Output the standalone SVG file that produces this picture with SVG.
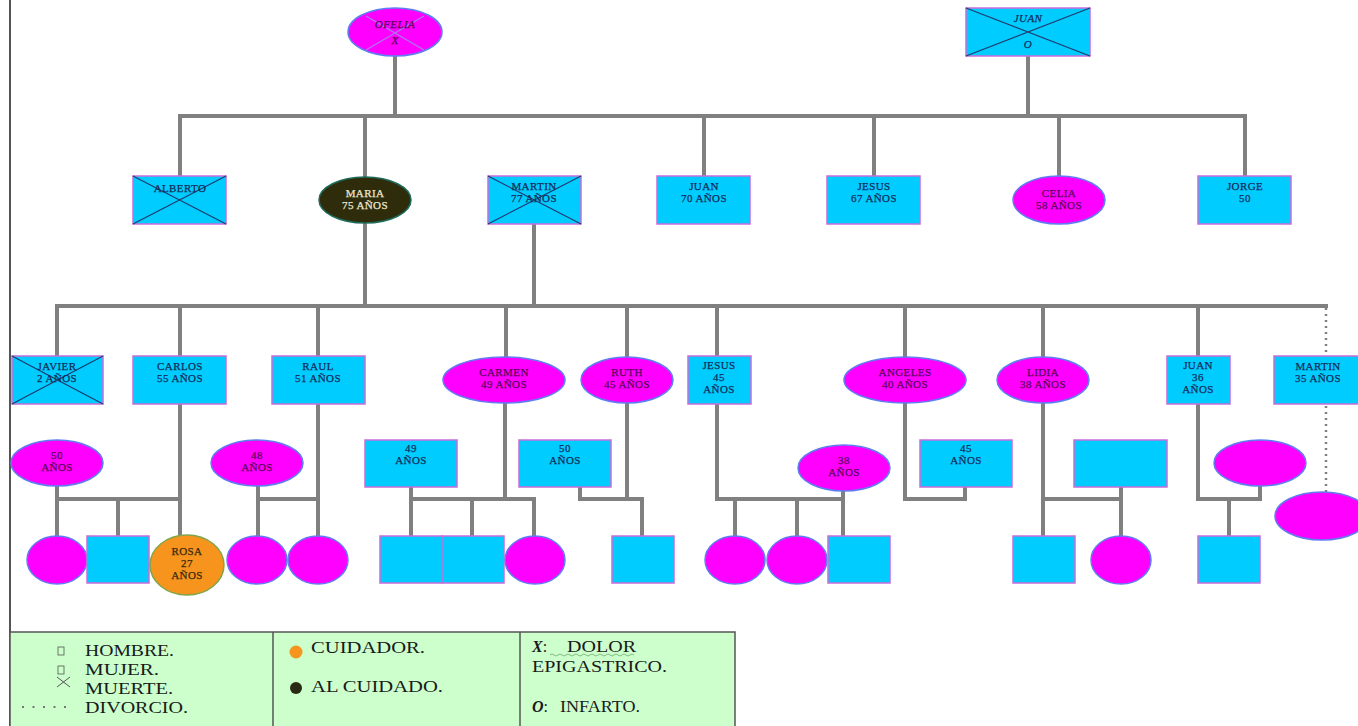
<svg xmlns="http://www.w3.org/2000/svg" width="1358" height="726" viewBox="0 0 1358 726">
<style>
.bg{fill:#ffffff}
.m{fill:#00CCFF;stroke:#C86DD7;stroke-width:1.5}
.f{fill:#FF00FF;stroke:#5F7DF0;stroke-width:1.5}
.x{stroke:#1F3A6E;stroke-width:1.2;fill:none}
.c{stroke:#808080;stroke-width:4;fill:none;stroke-linecap:square}
.d{stroke:#808080;stroke-width:2.5;fill:none;stroke-dasharray:2 4}
text{font-family:"Liberation Serif","Times New Roman",serif;text-anchor:middle}
.tm{font-size:11px;fill:#142C5A;letter-spacing:0.4px;stroke:#142C5A;stroke-width:0.25}
.tf{font-size:11px;fill:#5A005A;letter-spacing:0.4px;stroke:#5A005A;stroke-width:0.25}
.lg{font-size:16px;fill:#1a1a1a;text-anchor:start}
</style>
<rect class="bg" width="1358" height="726"/>
<line x1="10" y1="0" x2="10" y2="726" stroke="#555" stroke-width="2"/>

<g id="connectors">
  <path class="c" d="M395,57 V116 M1028,56 V116 M180,116 H1245 M180,116 V176 M365,116 V177 M704,116 V176 M874,116 V176 M1059,116 V176 M1245,116 V176"/>
  <path class="c" d="M365,223 V306 M534,224 V306 M57,306 H1326 M57,306 V356 M180,306 V356 M318,306 V356 M506,306 V357 M627,306 V357 M717,306 V356 M905,306 V357 M1043,306 V357 M1198,306 V356"/>
  <path class="d" d="M1326,308 V356 M1326,406 V493"/>
  <path class="c" d="M57,487 V536 M57,499 H180 M118,499 V536 M180,404 V536"/>
  <path class="c" d="M258,487 V536 M258,499 H318 M318,404 V536"/>
  <path class="c" d="M411,487 V536 M411,499 H534 V536 M472,499 V536 M505,403 V499"/>
  <path class="c" d="M580,487 V499 H642 V536 M627,403 V499"/>
  <path class="c" d="M717,404 V499 H843 M843,491 V536 M735,499 V536 M797,499 V536"/>
  <path class="c" d="M905,403 V499 H965 V487"/>
  <path class="c" d="M1043,403 V536 M1043,499 H1121 M1121,487 V536"/>
  <path class="c" d="M1198,404 V499 H1260 V487 M1229,499 V536"/>
</g>

<g id="ofelia">
  <ellipse class="f" cx="395" cy="32" rx="47" ry="24"/>
  <path d="M366,16 L424,50 M424,16 L366,50" stroke="#A77BF0" stroke-width="1.2" fill="none"/>
  <text class="tf" x="395" y="28" font-style="italic" font-size="10">OFELIA</text>
  <text class="tf" x="395" y="44" font-style="italic">X</text>
</g>
<g id="juan_top">
  <rect class="m" x="966" y="8" width="124" height="48"/>
  <path class="x" d="M966,8 L1090,56 M1090,8 L966,56"/>
  <text class="tm" x="1028" y="22" font-style="italic">JUAN</text>
  <text class="tm" x="1028" y="48" font-style="italic">O</text>
</g>

<g id="alberto">
  <rect class="m" x="133" y="176" width="93" height="48"/>
  <path class="x" d="M133,176 L226,224 M226,176 L133,224"/>
  <text class="tm" x="180" y="192">ALBERTO</text>
</g>
<g id="maria">
  <ellipse cx="365" cy="200" rx="46" ry="23" fill="#2F2C0C" stroke="#1E6B5A" stroke-width="1.5"/>
  <text class="tm" x="365" y="197" style="fill:#EDE6CF;stroke:#EDE6CF">MARIA</text>
  <text class="tm" x="365" y="209" style="fill:#EDE6CF;stroke:#EDE6CF">75 AÑOS</text>
</g>
<g id="martin_77">
  <rect class="m" x="488" y="176" width="93" height="48"/>
  <path class="x" d="M488,176 L581,224 M581,176 L488,224"/>
  <text class="tm" x="534" y="190">MARTIN</text>
  <text class="tm" x="534" y="202">77 AÑOS</text>
</g>
<g id="juan_70">
  <rect class="m" x="657" y="176" width="93" height="48"/>
  <text class="tm" x="704" y="190">JUAN</text>
  <text class="tm" x="704" y="202">70 AÑOS</text>
</g>
<g id="jesus_67">
  <rect class="m" x="827" y="176" width="93" height="48"/>
  <text class="tm" x="874" y="190">JESUS</text>
  <text class="tm" x="874" y="202">67 AÑOS</text>
</g>
<g id="celia">
  <ellipse class="f" cx="1059" cy="200" rx="46" ry="24"/>
  <text class="tf" x="1059" y="197">CELIA</text>
  <text class="tf" x="1059" y="209">58 AÑOS</text>
</g>
<g id="jorge">
  <rect class="m" x="1198" y="176" width="93" height="48"/>
  <text class="tm" x="1245" y="190">JORGE</text>
  <text class="tm" x="1245" y="202">50</text>
</g>

<g id="javier">
  <rect class="m" x="12" y="356" width="91" height="48"/>
  <path class="x" d="M12,356 L103,404 M103,356 L12,404"/>
  <text class="tm" x="57" y="370">JAVIER</text>
  <text class="tm" x="57" y="382">2 AÑOS</text>
</g>
<g id="carlos">
  <rect class="m" x="133" y="356" width="93" height="48"/>
  <text class="tm" x="180" y="370">CARLOS</text>
  <text class="tm" x="180" y="382">55 AÑOS</text>
</g>
<g id="raul">
  <rect class="m" x="272" y="356" width="93" height="48"/>
  <text class="tm" x="318" y="370">RAUL</text>
  <text class="tm" x="318" y="382">51 AÑOS</text>
</g>
<g id="carmen">
  <ellipse class="f" cx="504" cy="380" rx="61" ry="23"/>
  <text class="tf" x="504" y="376">CARMEN</text>
  <text class="tf" x="504" y="388">49 AÑOS</text>
</g>
<g id="ruth">
  <ellipse class="f" cx="627" cy="380" rx="46" ry="23"/>
  <text class="tf" x="627" y="376">RUTH</text>
  <text class="tf" x="627" y="388">45 AÑOS</text>
</g>
<g id="jesus_45">
  <rect class="m" x="688" y="356" width="63" height="48"/>
  <text class="tm" x="719" y="369">JESUS</text>
  <text class="tm" x="719" y="381">45</text>
  <text class="tm" x="719" y="393">AÑOS</text>
</g>
<g id="angeles">
  <ellipse class="f" cx="905" cy="380" rx="61" ry="23"/>
  <text class="tf" x="905" y="376">ANGELES</text>
  <text class="tf" x="905" y="388">40 AÑOS</text>
</g>
<g id="lidia">
  <ellipse class="f" cx="1043" cy="380" rx="46" ry="23"/>
  <text class="tf" x="1043" y="376">LIDIA</text>
  <text class="tf" x="1043" y="388">38 AÑOS</text>
</g>
<g id="juan_36">
  <rect class="m" x="1167" y="356" width="63" height="48"/>
  <text class="tm" x="1198" y="369">JUAN</text>
  <text class="tm" x="1198" y="381">36</text>
  <text class="tm" x="1198" y="393">AÑOS</text>
</g>
<g id="martin_35">
  <rect class="m" x="1274" y="356" width="90" height="48"/>
  <text class="tm" x="1318" y="370">MARTIN</text>
  <text class="tm" x="1318" y="382">35 AÑOS</text>
</g>

<g id="spouse_carlos">
  <ellipse class="f" cx="57" cy="463" rx="46" ry="23"/>
  <text class="tf" x="57" y="459">50</text>
  <text class="tf" x="57" y="471">AÑOS</text>
</g>
<g id="spouse_raul">
  <ellipse class="f" cx="257" cy="463" rx="46" ry="23"/>
  <text class="tf" x="257" y="459">48</text>
  <text class="tf" x="257" y="471">AÑOS</text>
</g>
<g id="spouse_carmen">
  <rect class="m" x="365" y="440" width="92" height="47"/>
  <text class="tm" x="411" y="452">49</text>
  <text class="tm" x="411" y="464">AÑOS</text>
</g>
<g id="spouse_ruth">
  <rect class="m" x="519" y="440" width="92" height="47"/>
  <text class="tm" x="565" y="452">50</text>
  <text class="tm" x="565" y="464">AÑOS</text>
</g>
<g id="spouse_jesus">
  <ellipse class="f" cx="844" cy="468" rx="46" ry="23"/>
  <text class="tf" x="844" y="464">38</text>
  <text class="tf" x="844" y="476">AÑOS</text>
</g>
<g id="spouse_angeles">
  <rect class="m" x="920" y="440" width="92" height="47"/>
  <text class="tm" x="966" y="452">45</text>
  <text class="tm" x="966" y="464">AÑOS</text>
</g>
<g id="spouse_lidia">
  <rect class="m" x="1074" y="440" width="93" height="47"/>
</g>
<g id="spouse_juan36">
  <ellipse class="f" cx="1260" cy="463" rx="46" ry="23"/>
</g>
<g id="spouse_martin35">
  <ellipse class="f" cx="1322" cy="516" rx="47" ry="24"/>
</g>

<g id="child_c1"><ellipse class="f" cx="57" cy="560" rx="30" ry="24"/></g>
<g id="child_c2"><rect class="m" x="87" y="536" width="62" height="47"/></g>
<g id="rosa">
  <ellipse cx="187" cy="565" rx="37" ry="30" fill="#F7941D" stroke="#7FA64A" stroke-width="1.5"/>
  <text class="tm" x="187" y="555" style="fill:#3A2A10;stroke:#3A2A10">ROSA</text>
  <text class="tm" x="187" y="567" style="fill:#3A2A10;stroke:#3A2A10">27</text>
  <text class="tm" x="187" y="579" style="fill:#3A2A10;stroke:#3A2A10">AÑOS</text>
</g>
<g id="child_r1"><ellipse class="f" cx="257" cy="560" rx="30" ry="24"/></g>
<g id="child_r2"><ellipse class="f" cx="318" cy="560" rx="30" ry="24"/></g>
<g id="child_cm1"><rect class="m" x="380" y="536" width="62" height="47"/></g>
<g id="child_cm2"><rect class="m" x="442" y="536" width="62" height="47"/></g>
<g id="child_cm3"><ellipse class="f" cx="535" cy="560" rx="30" ry="24"/></g>
<g id="child_ru1"><rect class="m" x="612" y="536" width="62" height="47"/></g>
<g id="child_j1"><ellipse class="f" cx="735" cy="560" rx="30" ry="24"/></g>
<g id="child_j2"><ellipse class="f" cx="797" cy="560" rx="30" ry="24"/></g>
<g id="child_j3"><rect class="m" x="828" y="536" width="62" height="47"/></g>
<g id="child_l1"><rect class="m" x="1013" y="536" width="62" height="47"/></g>
<g id="child_l2"><ellipse class="f" cx="1121" cy="560" rx="30" ry="24"/></g>
<g id="child_ju1"><rect class="m" x="1198" y="536" width="62" height="47"/></g>

<g id="legend">
  <rect x="10" y="632" width="725" height="100" fill="#CCFFCC" stroke="#555" stroke-width="1.5"/>
  <line x1="273" y1="632" x2="273" y2="726" stroke="#555" stroke-width="1.5"/>
  <line x1="520" y1="632" x2="520" y2="726" stroke="#555" stroke-width="1.5"/>
  <rect x="58" y="647" width="6" height="8" fill="none" stroke="#555" stroke-width="0.8"/>
  <rect x="58" y="666" width="6" height="8" fill="none" stroke="#555" stroke-width="0.8"/>
  <path d="M57,677 L70,687 M70,677 L57,687" stroke="#555" stroke-width="1" fill="none"/>
  <line x1="22" y1="707" x2="68" y2="707" stroke="#777" stroke-width="2" stroke-dasharray="2 8.5"/>
  <text class="lg" x="85" y="656" textLength="89" lengthAdjust="spacingAndGlyphs">HOMBRE.</text>
  <text class="lg" x="85" y="675" textLength="74" lengthAdjust="spacingAndGlyphs">MUJER.</text>
  <text class="lg" x="85" y="694" textLength="88" lengthAdjust="spacingAndGlyphs">MUERTE.</text>
  <text class="lg" x="85" y="713" textLength="103" lengthAdjust="spacingAndGlyphs">DIVORCIO.</text>
  <circle cx="296" cy="652" r="6.5" fill="#F7941D"/>
  <circle cx="296" cy="688" r="6" fill="#2A2A14"/>
  <text class="lg" x="311" y="653" textLength="114" lengthAdjust="spacingAndGlyphs">CUIDADOR.</text>
  <text class="lg" x="311" y="692" textLength="132" lengthAdjust="spacingAndGlyphs">AL CUIDADO.</text>
  <text class="lg" x="532" y="652"><tspan font-weight="bold" font-style="italic">X</tspan><tspan>:  </tspan></text>
  <text class="lg" x="567" y="652" textLength="69" lengthAdjust="spacingAndGlyphs">DOLOR</text>
  <path d="M550,655 q2,-2 4,0 t4,0 t4,0 t4,0 t4,0 t4,0 t4,0 t4,0 t4,0 t4,0 t4,0 t4,0 t4,0 t4,0 t4,0 t4,0 t4,0 t4,0 t4,0 t4,0 t4,0" stroke="#6FA86F" stroke-width="0.8" fill="none"/>
  <text class="lg" x="532" y="672" textLength="135" lengthAdjust="spacingAndGlyphs">EPIGASTRICO.</text>
  <text class="lg" x="532" y="712"><tspan font-weight="bold" font-style="italic">O</tspan><tspan>: </tspan></text>
  <text class="lg" x="560" y="712" textLength="80" lengthAdjust="spacingAndGlyphs">INFARTO.</text>
</g>
</svg>
